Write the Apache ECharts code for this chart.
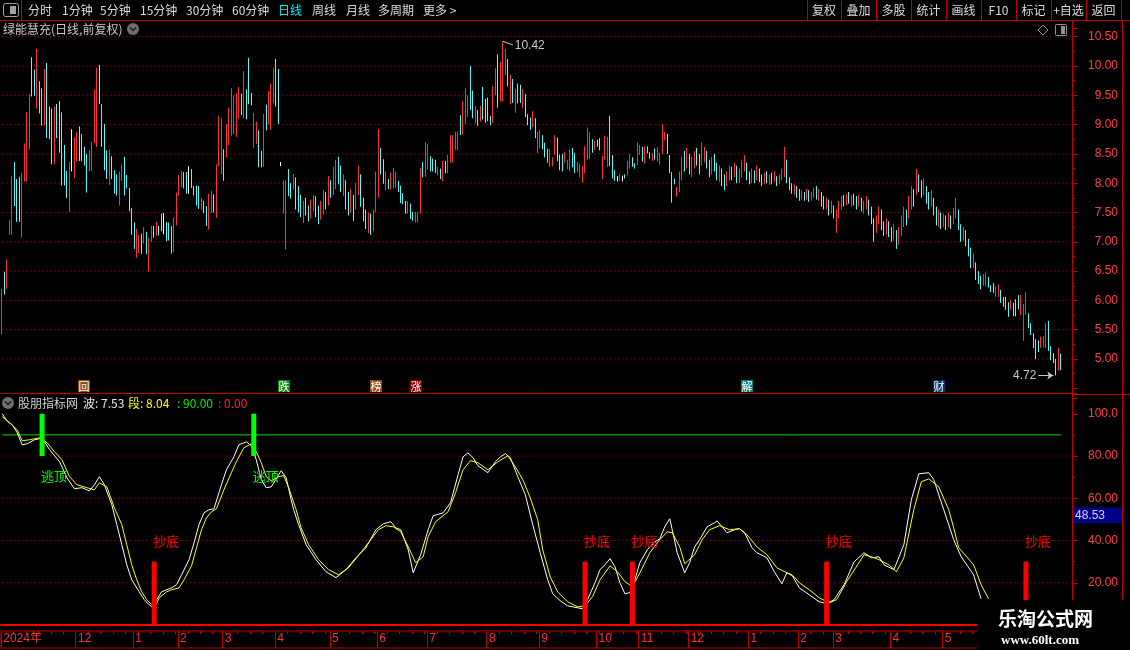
<!DOCTYPE html>
<html><head><meta charset="utf-8">
<script src="https://cdn.jsdelivr.net/npm/echarts@6/dist/echarts.min.js"></script>
<style>html,body{margin:0;padding:0;background:#000;}#c{width:1130px;height:650px;}</style>
</head><body><div id="c"></div>
<script>
// ---------- data: daily candles [open, close, low, high] ----------
const ohlc = [
[5.5,6.1,5.42,6.2],[6.45,6.15,6.1,6.49],[6.25,6.65,6.2,6.7],[7.15,7.3,7.12,7.37],[7.2,8.0,7.12,8.12],[8.3,7.7,7.61,8.36],[8.0,7.4,7.34,8.07],[8.05,7.45,7.34,8.11],
[7.2,8.1,7.07,8.18],[8.1,8.6,8.03,8.68],[8.1,9.1,8.03,9.21],[8.65,9.45,8.58,9.52],[10.05,9.55,9.48,10.15],[9.9,9.55,9.49,9.94],[9.35,10.2,9.27,10.29],[9.7,9.25,9.19,9.74],
[9.55,9.05,8.98,9.62],[9.05,9.85,8.99,9.95],[9.95,8.85,8.77,10.05],[9.25,8.8,8.75,9.31],[9.2,8.4,8.32,9.27],[8.4,9.2,8.32,9.31],[9.3,8.85,8.77,9.35],[9.35,8.6,8.52,9.4],
[9.1,8.05,7.96,9.21],[8.6,8.0,7.96,8.65],[8.15,7.8,7.75,8.21],[7.6,8.3,7.51,8.36],[8.5,8.5,8.2,8.92],[8.15,8.7,8.09,8.78],[8.45,8.8,8.37,8.87],[8.9,8.45,8.38,8.97],
[8.8,8.45,8.37,8.84],[8.55,8.35,8.3,8.62],[8.45,7.9,7.84,8.5],[8.25,8.5,8.2,8.56],[8.3,8.65,8.21,8.71],[8.75,9.5,8.68,9.6],[8.7,9.9,8.62,9.97],[9.95,9.4,9.35,10.02],
[9.3,8.7,8.62,9.35],[8.95,8.3,8.22,9.01],[8.5,8.12,8.07,8.56],[8.05,8.5,7.97,8.58],[8.4,8.12,8.07,8.46],[8.18,7.88,7.82,8.22],[8.1,7.85,7.79,8.15],[7.7,8.12,7.62,8.2],
[8.1,8.25,8.04,8.31],[8.4,7.85,7.79,8.45],[8.1,7.95,7.91,8.14],[7.88,7.58,7.52,7.92],[7.55,7.18,7.12,7.58],[7.3,6.95,6.88,7.33],[6.8,7.15,6.73,7.22],[6.88,7.05,6.81,7.12],
[7.1,6.85,6.79,7.14],[7.0,7.2,6.97,7.25],[7.12,6.85,6.79,7.17],[6.6,7.0,6.49,7.07],[7.03,7.22,7.0,7.27],[7.24,7.1,7.07,7.27],[7.13,7.3,7.1,7.34],[7.25,7.14,7.11,7.27],
[7.45,7.22,7.18,7.48],[7.3,7.3,7.13,7.49],[7.3,7.05,7.01,7.34],[7.3,7.06,7.02,7.33],[7.22,6.85,6.8,7.27],[6.9,7.35,6.83,7.41],[7.32,7.78,7.28,7.84],[7.82,8.1,7.79,8.14],
[7.96,8.15,7.93,8.21],[8.15,7.95,7.91,8.19],[8.15,7.88,7.82,8.19],[8.0,8.0,7.82,8.29],[8.2,7.96,7.92,8.24],[7.92,7.82,7.79,7.95],[7.92,7.66,7.62,7.96],[7.9,7.6,7.56,7.95],
[7.57,7.72,7.54,7.75],[7.67,7.52,7.49,7.7],[7.58,7.32,7.27,7.61],[7.28,7.76,7.21,7.82],[7.53,7.82,7.49,7.87],[7.78,7.55,7.5,7.81],[7.48,8.25,7.41,8.32],[8.32,9.08,8.29,9.15],
[8.2,9.05,8.15,9.11],[8.55,8.1,8.04,8.58],[8.48,8.95,8.44,9.01],[8.7,9.22,8.65,9.29],[8.85,9.55,8.81,9.62],[8.9,9.45,8.84,9.5],[8.85,9.48,8.79,9.53],[9.15,9.58,9.11,9.64],
[9.5,9.2,9.16,9.53],[9.15,9.85,9.11,9.91],[9.55,9.15,9.09,9.6],[10.05,9.4,9.35,10.14],[9.52,9.36,9.33,9.54],[8.65,9.15,8.6,9.2],[8.7,9.0,8.67,9.05],[8.85,8.32,8.27,8.9],
[8.52,8.3,8.27,8.55],[8.32,9.12,8.28,9.18],[9.3,8.95,8.9,9.34],[9.05,9.5,9.0,9.57],[8.95,9.62,8.91,9.7],[9.4,9.9,9.37,9.97],[10.05,9.38,9.31,10.12],[9.9,9.08,9.01,9.95],
[8.32,8.32,8.29,8.36],[7.52,7.98,7.48,8.04],[6.95,7.98,6.87,8.05],[8.2,7.82,7.78,8.24],[7.97,7.78,7.74,8.0],[7.92,8.12,7.89,8.16],[8.05,7.6,7.55,8.1],
[7.9,7.55,7.5,7.95],[7.75,7.46,7.42,7.8],[7.36,7.65,7.32,7.7],[7.7,7.5,7.45,7.75],[7.58,7.4,7.35,7.62],[7.44,7.68,7.4,7.72],[7.55,7.76,7.52,7.8],[7.74,7.46,7.42,7.78],
[7.58,7.34,7.3,7.62],[7.42,7.65,7.38,7.7],[7.5,7.84,7.46,7.88],[7.82,7.6,7.55,7.85],[7.66,8.06,7.62,8.12],[8.0,7.8,7.75,8.05],[7.84,8.22,7.8,8.28],[7.95,8.35,7.9,8.4],
[8.4,8.02,7.98,8.45],[8.25,7.9,7.85,8.3],[7.82,8.1,7.78,8.15],[8.0,7.6,7.55,8.05],[7.8,7.5,7.45,7.85],[7.54,7.85,7.5,7.9],[7.75,7.4,7.35,7.8],[7.6,7.95,7.55,8.0],
[7.85,8.25,7.8,8.3],[8.1,7.65,7.6,8.15],[7.7,7.4,7.35,7.75],[7.5,7.26,7.22,7.55],[7.2,7.45,7.15,7.5],[7.44,7.16,7.12,7.48],[7.22,7.5,7.18,7.55],[7.55,8.15,7.5,8.2],
[7.8,8.85,7.75,8.92],[8.55,8.2,8.15,8.6],
[8.36,8.04,7.99,8.41],[7.92,8.15,7.88,8.2],[8.04,7.93,7.9,8.07],[7.93,8.14,7.89,8.18],[7.95,8.22,7.91,8.26],[7.96,8.16,7.92,8.2],[8.0,7.88,7.85,8.04],[7.92,7.7,7.66,7.96],
[7.8,7.67,7.64,7.83],[7.66,7.52,7.48,7.7],[7.52,7.66,7.48,7.7],[7.62,7.43,7.39,7.65],[7.48,7.39,7.36,7.51],[7.36,7.48,7.33,7.51],[7.36,7.48,7.33,7.51],[7.52,8.2,7.48,8.26],
[8.32,8.14,8.1,8.36],[8.15,8.64,8.11,8.7],[8.27,8.62,8.23,8.67],[8.42,8.24,8.2,8.46],[8.38,8.24,8.2,8.42],[8.36,8.21,8.17,8.4],[8.16,8.25,8.13,8.28],[8.22,8.1,8.07,8.25],
[8.07,8.34,8.03,8.38],[8.35,8.2,8.17,8.38],[8.2,8.44,8.17,8.48],[8.4,8.76,8.35,8.82],[8.4,8.76,8.35,8.82],[8.6,8.84,8.57,8.88],[8.6,8.84,8.56,8.88],[9.12,8.86,8.82,9.16],
[8.88,9.34,8.83,9.4],[9.05,9.56,9.01,9.62],[9.17,9.45,9.13,9.5],[9.9,9.3,9.25,10.0],[9.54,9.15,9.11,9.58],[9.05,9.27,9.02,9.31],[9.22,9.02,8.98,9.25],[9.08,9.28,9.05,9.32],
[9.6,9.14,9.09,9.64],[9.4,9.07,9.03,9.44],[9.42,9.1,9.06,9.46],[9.12,9.02,8.99,9.15],[9.07,9.6,9.03,9.65],[9.54,9.9,9.5,9.96],[10.1,9.35,9.29,10.2],[9.45,10.0,9.4,10.07],
[9.45,10.3,9.39,10.42],[9.88,10.24,9.84,10.29],[10.08,9.7,9.65,10.12],[9.4,9.8,9.35,9.85],[9.74,9.42,9.37,9.78],[9.25,9.56,9.2,9.61],[9.66,9.4,9.36,9.7],[9.64,9.41,9.37,9.68],
[9.33,9.56,9.29,9.61],[9.48,9.18,9.13,9.52],[9.15,9.02,8.99,9.18],[9.09,8.95,8.91,9.12],[9.0,9.19,8.96,9.23],[9.07,8.82,8.77,9.11],[8.55,8.84,8.51,8.88],[8.64,8.87,8.6,8.91],
[8.79,8.62,8.58,8.82],[8.66,8.48,8.44,8.69],[8.56,8.38,8.35,8.59],[8.32,8.54,8.28,8.58],[8.31,8.42,8.29,8.44],[8.52,8.78,8.48,8.82],[8.74,8.42,8.37,8.78],[8.46,8.26,8.22,8.49],
[8.46,8.24,8.2,8.5],[8.38,8.5,8.35,8.53],[8.27,8.37,8.24,8.4],[8.24,8.54,8.2,8.58],[8.56,8.31,8.27,8.6],[8.48,8.21,8.17,8.52],[8.22,8.33,8.19,8.36],[8.14,8.3,8.1,8.33],
[8.05,8.25,8.01,8.29],[8.2,8.58,8.17,8.63],[8.45,8.9,8.4,8.95],[8.46,8.82,8.42,8.87],[8.72,8.55,8.52,8.75],[8.6,8.69,8.57,8.72],[8.72,8.64,8.62,8.74],[8.74,8.6,8.56,8.77],
[8.1,8.42,8.07,8.46],[8.44,8.77,8.4,8.81],[8.32,8.74,8.28,8.79],[9.05,8.35,8.29,9.15],[8.44,8.12,8.08,8.48],[8.19,8.07,8.04,8.22],[8.07,8.07,8.03,8.12],[8.06,8.14,8.04,8.16],
[8.08,8.08,8.03,8.13],[8.13,8.1,8.08,8.15],[8.16,8.35,8.13,8.38],[8.28,8.46,8.25,8.5],[8.41,8.31,8.28,8.44],[8.32,8.27,8.25,8.34],[8.35,8.66,8.31,8.7],[8.5,8.62,8.48,8.65],
[8.58,8.4,8.37,8.62],[8.37,8.6,8.33,8.63],[8.61,8.53,8.51,8.63],[8.51,8.44,8.42,8.53],[8.4,8.5,8.38,8.52],[8.56,8.43,8.4,8.59],[8.4,8.59,8.37,8.62],[8.35,8.49,8.32,8.52],
[8.54,8.96,8.5,9.01],[8.75,8.85,8.73,8.87],[8.8,8.54,8.5,8.84],[8.44,8.21,8.17,8.48],[8.15,7.72,7.67,8.19],[8.06,8.0,7.98,8.08],[7.8,7.91,7.77,7.94],
[7.9,8.15,7.85,8.2],[8.1,8.4,8.05,8.45],[8.5,8.25,8.2,8.55],[8.3,8.55,8.25,8.6],[8.45,8.2,8.15,8.5],[8.15,8.4,8.1,8.45],[8.3,8.5,8.25,8.55],[8.55,8.35,8.3,8.6],
[8.45,8.2,8.15,8.5],[8.35,8.65,8.3,8.7],[8.4,8.58,8.35,8.62],[8.5,8.3,8.25,8.55],[8.35,8.15,8.1,8.4],[8.2,8.4,8.15,8.45],[8.45,8.25,8.2,8.5],[8.3,8.1,8.05,8.35],
[8.06,8.26,8.02,8.3],[8.2,8.0,7.95,8.25],[8.1,7.92,7.88,8.15],[7.98,8.16,7.95,8.2],[8.08,8.26,8.05,8.3],[8.24,8.08,8.05,8.28],[8.13,8.3,8.1,8.35],[8.26,8.04,8.0,8.3],
[8.03,8.22,8.0,8.25],[8.13,8.36,8.1,8.4],[8.23,8.44,8.2,8.48],[8.3,8.08,8.05,8.35],[8.16,8.01,7.98,8.2],[8.03,8.22,8.0,8.25],[8.18,8.03,8.0,8.22],[8.08,8.26,8.05,8.3],
[8.21,8.05,8.02,8.25],[8.12,7.98,7.95,8.15],[8.0,8.15,7.98,8.18],[8.17,8.03,8.0,8.2],[7.99,8.12,7.97,8.15],[8.15,8.01,7.98,8.18],[8.04,8.17,8.02,8.2],[8.1,7.97,7.95,8.12],
[8.0,8.12,7.98,8.15],[8.07,8.22,8.05,8.25],[8.13,8.55,8.1,8.62],[8.35,8.04,8.0,8.4],[8.06,7.91,7.88,8.1],[7.97,7.85,7.82,8.0],[7.82,7.95,7.8,7.98],[7.92,7.78,7.75,7.95],
[7.87,7.73,7.7,7.9],[7.74,7.85,7.72,7.88],[7.83,7.72,7.7,7.85],[7.74,7.87,7.72,7.9],[7.85,7.71,7.68,7.88],[7.72,7.82,7.7,7.85],[7.77,7.89,7.75,7.92],[7.92,7.75,7.72,7.95],
[7.72,7.87,7.7,7.9],[7.82,7.63,7.6,7.85],[7.75,7.58,7.55,7.78],[7.57,7.72,7.55,7.75],[7.68,7.48,7.45,7.72],[7.5,7.67,7.48,7.7],[7.58,7.43,7.4,7.62],[7.2,7.5,7.15,7.55],
[7.43,7.66,7.4,7.7],[7.58,7.75,7.55,7.78],[7.77,7.63,7.6,7.8],[7.64,7.79,7.62,7.82],[7.82,7.68,7.65,7.85],[7.62,7.77,7.6,7.8],[7.79,7.65,7.62,7.82],[7.75,7.58,7.55,7.78],
[7.62,7.77,7.6,7.8],[7.72,7.55,7.52,7.75],[7.5,7.67,7.48,7.7],[7.57,7.75,7.55,7.78],[7.68,7.48,7.45,7.72],[7.56,7.34,7.3,7.6],[7.35,7.05,7.0,7.4],[7.18,7.41,7.15,7.45],
[7.33,7.56,7.3,7.6],[7.5,7.24,7.2,7.55],[7.32,7.13,7.1,7.35],[7.15,7.37,7.12,7.4],[7.32,7.11,7.08,7.35],[7.22,7.03,7.0,7.25],[7.05,7.27,7.02,7.3],[7.16,6.92,6.88,7.2],
[6.98,7.22,6.95,7.25],[7.13,7.41,7.1,7.45],[7.28,7.56,7.25,7.6],[7.52,7.31,7.28,7.55],[7.43,7.74,7.4,7.78],[7.58,7.91,7.55,7.95],[7.87,7.63,7.6,7.9],[7.83,8.2,7.8,8.25],
[8.12,7.88,7.85,8.15],[8.02,7.78,7.75,8.05],[7.83,8.04,7.8,8.08],[7.92,7.68,7.65,7.95],[7.82,7.58,7.55,7.85],[7.63,7.85,7.6,7.88],[7.72,7.48,7.45,7.75],[7.56,7.31,7.28,7.6],
[7.28,7.51,7.25,7.55],[7.47,7.25,7.22,7.5],[7.27,7.45,7.25,7.48],[7.42,7.23,7.2,7.45],[7.27,7.47,7.25,7.5],[7.42,7.25,7.22,7.45],[7.33,7.55,7.3,7.58],[7.43,7.71,7.4,7.75],
[7.51,7.24,7.2,7.55],[7.27,7.03,7.0,7.3],[7.05,7.22,7.02,7.25],[7.17,6.95,6.92,7.2],[7.02,6.78,6.75,7.05],[6.86,6.59,6.55,6.9],[6.58,6.77,6.55,6.8],[6.62,6.38,6.35,6.65],
[6.47,6.31,6.28,6.5],
[6.39,6.22,6.19,6.42],[6.27,6.42,6.25,6.45],[6.27,6.45,6.24,6.48],[6.37,6.25,6.22,6.4],[6.24,6.16,6.14,6.26],[6.27,6.15,6.13,6.3],[6.08,6.21,6.06,6.24],[6.09,6.24,6.06,6.27],
[6.15,5.99,5.96,6.18],[6.03,5.92,5.89,6.06],[6.03,5.87,5.84,6.06],[5.94,5.75,5.72,5.97],[5.86,5.98,5.84,6.01],[5.93,5.76,5.73,5.96],[5.98,5.76,5.73,6.02],[6.06,5.88,5.85,6.09],
[5.78,6.05,5.75,6.09],[5.36,5.9,5.31,5.94],[5.78,6.1,5.75,6.14],[5.75,5.56,5.53,5.78],[5.58,5.44,5.41,5.61],[5.41,5.22,5.19,5.44],[5.3,5.04,5.0,5.34],[5.29,5.15,5.12,5.32],
[5.21,5.35,5.19,5.38],[5.22,5.36,5.2,5.39],[5.23,5.57,5.19,5.61],[5.6,5.18,5.14,5.65],[5.19,5.01,4.98,5.22],[5.07,4.96,4.93,5.1],[4.97,4.76,4.72,5.0],[4.84,5.15,4.8,5.19],
[5.05,4.85,4.81,5.09]
];

// indicator lines: [dayIndex, value]
const waveLine = [[0,100],[2,96.4],[4,94.8],[6,91.0],[8,85.3],[10,85.8],[13,87.7],[15,88.2],[17,86.7],[19,83.0],[23,77.3],[26,69.7],[29,64.5],[32,65.0],[35,63.5],[37,66.4],[39,70.2],[41,66.4],[44,56.9],[46,47.5],[48,38.0],[50,28.5],[52,21.4],[55,15.7],[57,12.0],[59,9.6],[60,8.6],[62,12.0],[64,15.7],[66,16.7],[68,17.6],[70,19.1],[72,23.8],[75,30.9],[77,38.9],[79,47.5],[81,53.1],[83,54.6],[85,55.0],[88,66.4],[90,73.5],[93,79.6],[95,85.3],[98,86.7],[100,84.9],[102,78.2],[104,68.8],[106,65.0],[108,65.4],[111,71.1],[112,73.0],[114,69.7],[116,59.3],[117,54.6],[119,47.5],[122,38.0],[126,30.9],[130,25.2],[134,22.4],[138,26.2],[142,31.8],[146,36.6],[150,45.1],[153,47.9],[156,48.9],[158,46.0],[160,45.1],[163,35.6],[165,24.7],[168,33.3],[171,45.1],[173,51.7],[177,53.1],[180,57.9],[183,71.1],[185,79.6],[187,81.5],[189,79.2],[191,75.4],[195,72.1],[198,77.3],[200,79.6],[202,81.1],[204,79.2],[207,70.2],[210,61.7],[213,47.5],[216,34.2],[219,21.4],[221,14.8],[224,11.5],[227,9.1],[229,8.6],[233,7.7],[235,12.0],[238,20.0],[240,26.2],[242,28.5],[244,31.4],[246,27.6],[248,20.0],[250,14.8],[252,15.3],[254,21.4],[256,29.5],[259,35.6],[262,39.4],[264,40.8],[266,46.5],[268,50.3],[269,45.1],[271,34.2],[274,24.7],[276,29.5],[278,37.0],[280,40.4],[283,46.5],[286,48.4],[287,49.3],[289,46.5],[291,43.7],[294,45.1],[296,45.6],[298,43.7],[301,36.6],[303,34.2],[307,31.8],[310,25.2],[313,19.5],[315,24.7],[317,23.8],[320,17.6],[324,14.3],[328,11.0],[331,10.1],[334,12.0],[338,19.1],[342,29.9],[346,34.2],[349,31.8],[352,32.3],[354,28.5],[358,26.2],[362,38.0],[365,59.3],[368,71.6],[372,72.1],[374,68.8],[378,54.6],[382,40.4],[385,32.3],[390,23.8],[393,12.4]];
const segLine = [[0,98.6],[3,95.7],[6,92.4],[8,87.2],[11,87.7],[15,88.6],[18,86.3],[21,82.0],[24,78.2],[27,70.2],[30,66.4],[34,65.0],[37,64.0],[39,67.3],[42,65.4],[45,55.5],[48,47.5],[50,38.0],[52,28.5],[54,21.4],[56,15.7],[58,12.0],[60,9.6],[62,10.1],[63,12.9],[66,15.7],[68,16.7],[71,17.6],[73,21.4],[76,28.0],[78,36.6],[80,45.1],[82,50.8],[84,53.6],[86,55.0],[89,64.0],[92,72.1],[94,77.3],[97,83.9],[100,85.8],[102,82.0],[104,76.8],[106,70.2],[108,68.3],[111,70.2],[113,70.7],[115,65.0],[118,54.6],[120,46.0],[123,38.0],[127,30.9],[131,26.2],[135,23.8],[139,27.1],[143,32.8],[147,38.9],[151,45.1],[154,47.0],[157,46.5],[160,44.1],[163,37.0],[166,29.5],[169,32.3],[171,41.8],[174,48.9],[179,53.6],[182,62.6],[185,73.5],[188,77.8],[191,76.8],[195,73.5],[199,77.3],[203,80.1],[206,74.9],[209,68.8],[212,60.2],[215,49.8],[217,35.6],[220,22.8],[223,15.7],[227,11.0],[231,8.6],[234,9.1],[237,13.4],[240,21.4],[244,28.0],[247,25.2],[250,20.5],[253,18.1],[256,24.7],[260,34.2],[264,40.4],[267,44.1],[269,43.7],[272,37.0],[274,29.0],[278,33.3],[281,40.4],[284,45.1],[288,47.0],[292,45.1],[296,45.6],[299,42.7],[303,37.0],[307,33.3],[311,27.1],[315,24.7],[318,22.8],[320,20.0],[324,16.7],[328,12.9],[332,10.5],[335,12.0],[339,20.5],[344,29.5],[346,33.3],[349,32.3],[352,30.9],[356,28.5],[359,25.2],[362,31.8],[366,54.6],[369,67.8],[372,69.2],[376,65.4],[380,54.6],[382,46.0],[384,36.6],[390,28.5],[393,19.1],[396,12.4]];
const keyLevel = 90;
const topSignals = [16, 101];          // 逃顶
const topRange = [80, 100];
const bottomSignals = [61, 234, 253, 331, 411]; // 抄底
const bottomRange = [0, 30];

// event markers on price panel: [dayIndex, char, colour]
const markers = [[33,'回','#8b4a10'],[113,'跌','#008c00'],[150,'榜','#8b4a10'],[166,'涨','#800000'],[299,'解','#008080'],[376,'财','#003670']];

// axis ticks
const priceTicks = [5.0,5.5,6.0,6.5,7.0,7.5,8.0,8.5,9.0,9.5,10.0,10.5];
const indTicks = [20,40,60,80];
const monthIdx = [0,30,53,71,89,110,132,151,171,195,216,239,256,276,300,320,334,357,378];
const monthLabels = ['2024年','12','1','2','3','4','5','6','7','8','9','10','11','12','1','2','3','4','5'];

// ---------- chart ----------
const AX = '#c00000', CY = '#54fcfc';
const CJK = '"Noto Sans CJK SC", sans-serif';
const NUMF = '"Liberation Sans", "DejaVu Sans", sans-serif';
const N = ohlc.length + 4;
const cats = Array.from({length: N}, (_, i) => String(i));
const monthMap = {}; monthIdx.forEach((m, k) => { monthMap[m] = monthLabels[k]; });
const isMonth = (idx) => monthMap[idx] !== undefined;

const doji = {color:'#fff', color0:'#fff', borderColor:'#fff', borderColor0:'#fff', borderColorDoji:'#fff'};
const candleData = ohlc.map(d => d[0] === d[1] ? {value: d, itemStyle: doji} : d);
let hiIdx = 0, loIdx = 0;
ohlc.forEach((d, i) => { if (d[3] > ohlc[hiIdx][3]) hiIdx = i; if (d[2] < ohlc[loIdx][2]) loIdx = i; });
const hiVal = ohlc[hiIdx][3], loVal = ohlc[loIdx][2];
const markerLevel = 4.54;

const dotted = {color:'#a01c1c', width:1, type:[1,3]};
const gridLines = [];
priceTicks.forEach(t => gridLines.push({type:'line', xAxisIndex:0, yAxisIndex:0, data:[[0,t],[N-1,t]], symbol:'none', silent:true, z:1, lineStyle:dotted}));
indTicks.forEach(t => gridLines.push({type:'line', xAxisIndex:1, yAxisIndex:1, data:[[0,t],[N-1,t]], symbol:'none', silent:true, z:1, lineStyle:dotted}));

function signalRender(color, text, above) {
  return function (params, api) {
    const i = api.value(0);
    const top = api.coord([i, api.value(2)]);
    const bot = api.coord([i, api.value(1)]);
    return {type:'group', children:[
      {type:'rect', shape:{x: top[0]-2.5, y: top[1], width:5, height: bot[1]-top[1]}, style:{fill:color}},
      {type:'text', style:{text:text, x: top[0]-1, y: above ? top[1]-14 : bot[1]+14, fill:color,
        font:'13px ' + CJK, verticalAlign: above ? 'bottom' : 'top', align:'left'}}
    ]};
  };
}
function markerRender(params, api) {
  const m = markers[params.dataIndex];
  const p = api.coord([api.value(0), api.value(1)]);
  return {type:'group', children:[
    {type:'rect', shape:{x: Math.round(p[0]) - 6, y: Math.round(p[1]) - 6, width:12, height:12}, style:{fill:m[2]}},
    {type:'text', style:{text:m[1], x: Math.round(p[0]), y: Math.round(p[1]) + 0.5, fill:'#ffffff', font:'11px ' + CJK, align:'center', verticalAlign:'middle'}}
  ]};
}

const priceFmt = v => (v > 4.99 && v < 10.51 && Math.abs(v*2 - Math.round(v*2)) < 1e-6) ? v.toFixed(2) : '';
const indFmt = v => (v === 100 ? '100.0' : (v > 0 && v < 100 && v % 20 === 0 ? v.toFixed(2) : ''));

const tbText = (t, x, col) => ({type:'text', z:100, style:{text:t, x:x, y:10.5, fill: col || '#dcdcdc', font:'12px ' + CJK, verticalAlign:'middle'}});
const tbCenter = (t, x) => ({type:'text', z:100, style:{text:t, x:x, y:10.5, fill:'#dcdcdc', font:'12px ' + CJK, verticalAlign:'middle', align:'center'}});
const vline = (x, y1, y2, col, w) => ({type:'line', z:100, shape:{x1:x, y1:y1, x2:x, y2:y2}, style:{stroke: col || AX, lineWidth: w || 1}});

const graphics = [
  {type:'rect', z:100, shape:{x:3.5, y:3.5, width:15, height:13, r:2}, style:{stroke:'#a0a0a0', fill:'#000', lineWidth:1}},
  {type:'rect', z:100, shape:{x:10, y:6, width:6, height:8}, style:{fill:'#a0a0a0'}},
  vline(21.5, 0, 20),
  tbText('分时', 28), tbText('1分钟', 62), tbText('5分钟', 100), tbText('15分钟', 140), tbText('30分钟', 186),
  tbText('60分钟', 232), tbText('日线', 278, '#00f0f0'), tbText('周线', 312), tbText('月线', 346), tbText('多周期', 378), tbText('更多 >', 423),
  vline(807.5,0,20), vline(841.5,0,20), vline(876.5,0,20), vline(911.5,0,20), vline(946.5,0,20),
  vline(981.5,0,20), vline(1016.5,0,20), vline(1051.5,0,20), vline(1086.5,0,20), vline(1121.5,0,20),
  tbCenter('复权', 824), tbCenter('叠加', 858.5), tbCenter('多股', 893.5), tbCenter('统计', 928.5), tbCenter('画线', 963.5),
  tbCenter('F10', 998.5), tbCenter('标记', 1033.5), tbCenter('+自选', 1068.5), tbCenter('返回', 1103.5),
  {type:'line', z:100, shape:{x1:0, y1:20.5, x2:1130, y2:20.5}, style:{stroke:AX, lineWidth:1}},
  {type:'text', z:100, style:{text:'绿能慧充(日线,前复权)', x:3, y:29, fill:'#c8c8c8', font:'12px ' + CJK, verticalAlign:'middle'}},
  {type:'circle', z:100, shape:{cx:133, cy:29, r:6}, style:{fill:'#6e6e6e'}},
  {type:'polyline', z:101, shape:{points:[[130,27.5],[133,30.5],[136,27.5]]}, style:{stroke:'#1a1a1a', lineWidth:1.5, fill:null}},
  {type:'polygon', z:100, shape:{points:[[1043,25],[1048,30],[1043,35],[1038,30]]}, style:{stroke:'#909090', fill:null, lineWidth:1}},
  {type:'rect', z:100, shape:{x:1055.5, y:24.5, width:11, height:11, r:1}, style:{stroke:'#909090', fill:null, lineWidth:1}},
  {type:'rect', z:100, shape:{x:1061, y:26, width:4, height:8}, style:{fill:'#909090'}},
  vline(1072.5, 20, 600), vline(1122.5, 20, 600),
  {type:'line', z:100, shape:{x1:1072, y1:394.5, x2:1130, y2:394.5}, style:{stroke:AX, lineWidth:1}},
  {type:'circle', z:100, shape:{cx:8, cy:403, r:6}, style:{fill:'#6e6e6e'}},
  {type:'polyline', z:101, shape:{points:[[5,401.5],[8,404.5],[11,401.5]]}, style:{stroke:'#1a1a1a', lineWidth:1.5, fill:null}},
  {type:'text', z:100, style:{text:'股朋指标网', x:18, y:403.5, fill:'#d0d0d0', font:'12px ' + CJK, verticalAlign:'middle'}},
  {type:'text', z:100, style:{text:'波: 7.53', x:83, y:403.5, fill:'#e8e8e8', font:'12px ' + CJK, verticalAlign:'middle'}},
  {type:'text', z:100, style:{text:'段: 8.04', x:128, y:403.5, fill:'#ffff00', font:'12px ' + CJK, verticalAlign:'middle'}},
  {type:'text', z:100, style:{text:': 90.00', x:177, y:403.5, fill:'#00ee00', font:'12px ' + CJK, verticalAlign:'middle'}},
  {type:'text', z:100, style:{text:': 0.00', x:218, y:403.5, fill:'#ff2020', font:'12px ' + CJK, verticalAlign:'middle'}},
  {type:'rect', z:100, shape:{x:1073, y:507.5, width:49, height:15.5}, style:{fill:'#000088'}},
  {type:'text', z:101, style:{text:'48.53', x:1075, y:515.5, fill:'#d0d0ff', font:'12px ' + NUMF, verticalAlign:'middle'}},
  {type:'rect', z:110, shape:{x:977, y:600, width:153, height:50}, style:{fill:'#000'}},
  {type:'text', z:111, style:{text:'乐淘公式网', x:998, y:619, fill:'#ffffff', font:'bold 19px ' + CJK, verticalAlign:'middle'}},
  {type:'text', z:111, style:{text:'www.60lt.com', x:1001, y:641, fill:'#ffffff', font:'bold 13px "Liberation Serif", serif', verticalAlign:'middle'}}
];

const option = {
  backgroundColor:'#000',
  animation:false,
  grid:[
    {left:1, width:1071, top:28, height:365},
    {left:1, width:1071, top:398, height:227},
    {left:1, width:1071, top:631, height:17, show:true, borderColor:AX, borderWidth:1, backgroundColor:'transparent'}
  ],
  xAxis:[
    {type:'category', gridIndex:0, data:cats, boundaryGap:true, axisLine:{show:true, lineStyle:{color:AX}}, axisTick:{show:false}, axisLabel:{show:false}, splitLine:{show:false}},
    {type:'category', gridIndex:1, data:cats, boundaryGap:true, axisLine:{show:true, lineStyle:{color:'#ff0000', width:2}}, axisTick:{show:false}, axisLabel:{show:false}, splitLine:{show:false}},
    {type:'category', gridIndex:2, data:cats, boundaryGap:true, position:'bottom', axisLine:{show:false},
      axisTick:{show:true, inside:true, length:17, interval:(i) => isMonth(i), lineStyle:{color:AX}},
      axisLabel:{show:true, inside:true, margin:3, interval:(i) => isMonth(i), formatter:(v) => monthMap[Number(v)] || '',
        color:'#ff3030', fontSize:12, fontFamily:NUMF + ', "Noto Sans CJK SC"', align:'left', padding:[0,0,0,1]},
      splitLine:{show:false}},
    {type:'category', gridIndex:2, data:cats, boundaryGap:true, position:'top', axisLine:{show:false},
      axisTick:{show:true, inside:true, length:3, interval:4, lineStyle:{color:AX}}, axisLabel:{show:false}, splitLine:{show:false}}
  ],
  yAxis:[
    {type:'value', gridIndex:0, position:'right', min:4.42, max:10.648, splitNumber:12,
      axisLine:{show:true, lineStyle:{color:AX}}, axisTick:{show:true, length:5, lineStyle:{color:AX}},
      minorTick:{show:true, splitNumber:2, length:3, lineStyle:{color:AX}},
      axisLabel:{formatter:priceFmt, color:'#ff4040', fontSize:12, fontFamily:NUMF, align:'right', margin:46},
      splitLine:{show:false}},
    {type:'value', gridIndex:1, position:'right', min:0, max:107.46, interval:20,
      axisLine:{show:true, lineStyle:{color:AX}}, axisTick:{show:true, length:5, lineStyle:{color:AX}},
      minorTick:{show:true, splitNumber:2, length:3, lineStyle:{color:AX}},
      axisLabel:{formatter:indFmt, color:'#ff4040', fontSize:12, fontFamily:NUMF, align:'right', margin:46},
      splitLine:{show:false}},
    {type:'value', gridIndex:2, show:false, min:0, max:1}
  ],
  series: gridLines.concat([
    {type:'candlestick', xAxisIndex:0, yAxisIndex:0, data:candleData, barWidth:1, z:2,
      itemStyle:{color:'#ff3232', color0:CY, borderColor:'#ff3232', borderColor0:CY, borderWidth:1},
      markLine:{silent:true, symbol:['none','none'], animation:false, data:[
        [{coord:[hiIdx, hiVal], lineStyle:{color:'#c8c8c8', width:1, type:'solid'},
          label:{show:true, position:'end', formatter:hiVal.toFixed(2), color:'#c8c8c8', fontSize:12, fontFamily:NUMF, distance:2}},
         {coord:[hiIdx+4, hiVal-0.06]}],
        [{coord:[loIdx-7, loVal], lineStyle:{color:'#c8c8c8', width:1, type:'solid'},
          label:{show:true, position:'start', formatter:loVal.toFixed(2), color:'#c8c8c8', fontSize:12, fontFamily:NUMF, distance:2}},
         {coord:[loIdx-1, loVal], symbol:'arrow', symbolSize:6}]
      ]}},
    {type:'custom', xAxisIndex:0, yAxisIndex:0, z:3, renderItem:markerRender, encode:{x:0, y:1},
      data: markers.map(m => [m[0], markerLevel])},
    {type:'line', xAxisIndex:1, yAxisIndex:1, z:2, data:[[0,keyLevel],[ohlc.length-1,keyLevel]], symbol:'none', lineStyle:{color:'#00e000', width:1}},
    {type:'line', xAxisIndex:1, yAxisIndex:1, z:2, data:waveLine, showSymbol:false, symbol:'none', lineStyle:{color:'#ffffff', width:1}},
    {type:'line', xAxisIndex:1, yAxisIndex:1, z:2, data:segLine, showSymbol:false, symbol:'none', lineStyle:{color:'#ffff00', width:1}},
    {type:'custom', xAxisIndex:1, yAxisIndex:1, z:4, renderItem:signalRender('#00ff00','逃顶',false),
      encode:{x:0, y:[1,2]}, data: topSignals.map(i => [i, topRange[0], topRange[1]])},
    {type:'custom', xAxisIndex:1, yAxisIndex:1, z:4, renderItem:signalRender('#ff0000','抄底',true),
      encode:{x:0, y:[1,2]}, data: bottomSignals.map(i => [i, bottomRange[0], bottomRange[1]])}
  ]),
  graphic: graphics
};
const chart = echarts.init(document.getElementById('c'));
chart.setOption(option);
</script>
</body></html>
